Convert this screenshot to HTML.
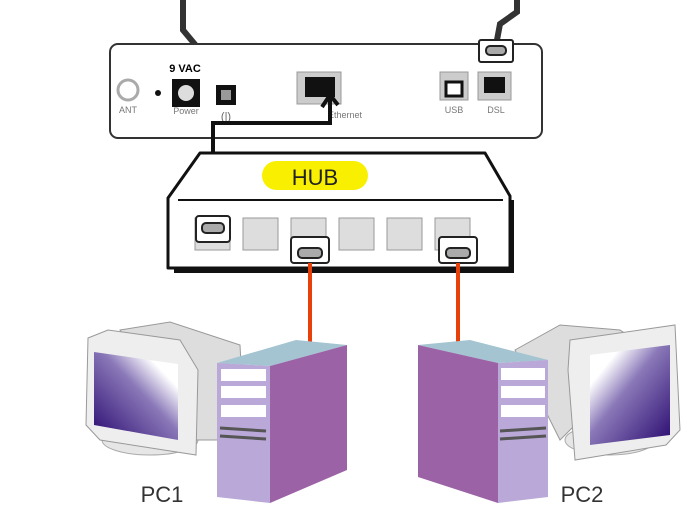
<!DOCTYPE html>
<html><head><meta charset="utf-8"><style>html,body{margin:0;padding:0;background:#fff}svg{display:block}</style></head><body>
<svg width="700" height="521" viewBox="0 0 700 521" xmlns="http://www.w3.org/2000/svg" font-family="Liberation Sans, sans-serif">
<defs>
<linearGradient id="scr1" x1="0" y1="1" x2="1" y2="0"><stop offset="0" stop-color="#2a0a70"/><stop offset="0.55" stop-color="#8a78b8"/><stop offset="0.8" stop-color="#fff"/></linearGradient>
<linearGradient id="scr2" x1="1" y1="1" x2="0" y2="0"><stop offset="0" stop-color="#2a0a70"/><stop offset="0.55" stop-color="#8a78b8"/><stop offset="0.8" stop-color="#fff"/></linearGradient>
</defs>
<!-- cables top -->
<path d="M183 0 L183 30 L198 48" fill="none" stroke="#333" stroke-width="6"/>
<path d="M517 0 L517 12 L500 24 L497 40" fill="none" stroke="#333" stroke-width="6"/>
<!-- modem -->
<rect x="110" y="44" width="432" height="94" rx="8" fill="#fff" stroke="#333" stroke-width="2"/>
<circle cx="128" cy="90" r="10" fill="#fff" stroke="#aaa" stroke-width="3"/>
<text x="128" y="113" font-size="9" fill="#777" text-anchor="middle">ANT</text>
<circle cx="158" cy="93" r="3" fill="#111"/>
<text x="185" y="72" font-size="11" font-weight="bold" text-anchor="middle">9 VAC</text>
<rect x="172" y="79" width="28" height="28" fill="#111"/>
<circle cx="186" cy="93" r="8" fill="#ddd"/>
<text x="186" y="114" font-size="9" fill="#777" text-anchor="middle">Power</text>
<rect x="216" y="85" width="20" height="20" fill="#111"/>
<rect x="221" y="90" width="10" height="10" fill="#999"/>
<text x="226" y="120" font-size="11" fill="#666" text-anchor="middle">(|)</text>
<rect x="297" y="72" width="44" height="32" fill="#ccc" stroke="#999"/>
<rect x="305" y="77" width="30" height="20" fill="#111"/>
<text x="345" y="118" font-size="9" fill="#777" text-anchor="middle">Ethernet</text>
<rect x="440" y="72" width="28" height="28" fill="#ccc" stroke="#999"/>
<rect x="446" y="82" width="16" height="14" fill="#fff" stroke="#111" stroke-width="3"/>
<text x="454" y="113" font-size="9" fill="#777" text-anchor="middle">USB</text>
<rect x="478" y="72" width="33" height="28" fill="#ccc" stroke="#999"/>
<rect x="484" y="77" width="21" height="16" fill="#111"/>
<text x="496" y="113" font-size="9" fill="#777" text-anchor="middle">DSL</text>
<rect x="479" y="40" width="34" height="22" rx="2" fill="#fff" stroke="#222" stroke-width="2"/>
<rect x="486" y="46" width="20" height="9" rx="4" fill="#aaa" stroke="#222" stroke-width="2"/>
<!-- ethernet cable -->
<path d="M213 215 L213 123 L330 123 L330 95 M322 107 L330 95 M338 105 L330 95" fill="none" stroke="#111" stroke-width="4"/>
<!-- hub -->
<polygon points="174,273 514,273 514,200 510,200 510,268 174,268" fill="#111"/>
<polygon points="168,198 200,153 485,153 510,196 510,268 168,268" fill="#fff" stroke="#111" stroke-width="3" stroke-linejoin="round"/>
<line x1="178" y1="200" x2="503" y2="200" stroke="#111" stroke-width="2"/>
<rect x="262" y="161" width="106" height="29" rx="14.5" fill="#f8f000"/>
<text x="315" y="185" font-size="22" text-anchor="middle" fill="#222">HUB</text>
<rect x="195" y="218" width="35" height="32" fill="#ddd" stroke="#999"/>
<rect x="243" y="218" width="35" height="32" fill="#ddd" stroke="#999"/>
<rect x="291" y="218" width="35" height="32" fill="#ddd" stroke="#999"/>
<rect x="339" y="218" width="35" height="32" fill="#ddd" stroke="#999"/>
<rect x="387" y="218" width="35" height="32" fill="#ddd" stroke="#999"/>
<rect x="435" y="218" width="35" height="32" fill="#ddd" stroke="#999"/>
<rect x="196" y="216" width="34" height="26" rx="3" fill="#fff" stroke="#222" stroke-width="2"/>
<rect x="202" y="223" width="22" height="10" rx="4" fill="#aaa" stroke="#222" stroke-width="2"/>
<rect x="291" y="237" width="38" height="26" rx="3" fill="#fff" stroke="#222" stroke-width="2"/>
<rect x="298" y="248" width="24" height="10" rx="4" fill="#aaa" stroke="#222" stroke-width="2"/>
<rect x="439" y="237" width="38" height="26" rx="3" fill="#fff" stroke="#222" stroke-width="2"/>
<rect x="446" y="248" width="24" height="10" rx="4" fill="#aaa" stroke="#222" stroke-width="2"/>
<!-- red lines -->
<line x1="310" y1="263" x2="310" y2="342" stroke="#e8400a" stroke-width="4"/>
<line x1="458" y1="263" x2="458" y2="342" stroke="#e8400a" stroke-width="4"/>
<!-- PC1 monitor -->
<ellipse cx="150" cy="440" rx="48" ry="15" fill="#e6e6e6" stroke="#aaa"/>
<polygon points="120,330 170,322 240,345 245,440 190,440" fill="#ddd" stroke="#999"/>
<polygon points="88,338 108,330 180,340 198,370 196,455 100,440 86,425" fill="#eee" stroke="#999"/>
<polygon points="94,352 178,364 178,440 94,425" fill="url(#scr1)"/>
<!-- PC1 tower -->
<polygon points="217,363 270,366 347,345 296,340" fill="#a3c4d0"/>
<polygon points="270,366 347,345 347,470 270,503" fill="#9b63a6"/>
<polygon points="217,363 270,366 270,503 217,497" fill="#b9a8d8"/>
<rect x="221" y="369" width="45" height="12" fill="#fff"/>
<rect x="221" y="386" width="45" height="12" fill="#fff"/>
<rect x="221" y="405" width="45" height="12" fill="#fff"/>
<line x1="220" y1="428" x2="266" y2="431" stroke="#555" stroke-width="3"/>
<line x1="220" y1="436" x2="266" y2="439" stroke="#555" stroke-width="3"/>
<!-- PC2 monitor -->
<ellipse cx="610" cy="440" rx="45" ry="15" fill="#e6e6e6" stroke="#aaa"/>
<polygon points="515,350 560,325 620,330 650,350 560,440" fill="#ddd" stroke="#999"/>
<polygon points="570,340 675,325 680,430 666,445 575,460 568,370" fill="#eee" stroke="#999"/>
<polygon points="590,355 670,345 670,435 590,445" fill="url(#scr2)"/>
<!-- PC2 tower -->
<polygon points="418,345 498,363 548,360 470,340" fill="#a3c4d0"/>
<polygon points="418,345 498,363 498,503 418,477" fill="#9b63a6"/>
<polygon points="498,363 548,360 548,497 498,503" fill="#b9a8d8"/>
<rect x="501" y="368" width="44" height="12" fill="#fff"/>
<rect x="501" y="386" width="44" height="12" fill="#fff"/>
<rect x="501" y="405" width="44" height="12" fill="#fff"/>
<line x1="500" y1="431" x2="546" y2="428" stroke="#555" stroke-width="3"/>
<line x1="500" y1="439" x2="546" y2="436" stroke="#555" stroke-width="3"/>
<!-- labels -->
<text x="162" y="502" font-size="22" fill="#333" text-anchor="middle">PC1</text>
<text x="582" y="502" font-size="22" fill="#333" text-anchor="middle">PC2</text>
</svg>
</body></html>
